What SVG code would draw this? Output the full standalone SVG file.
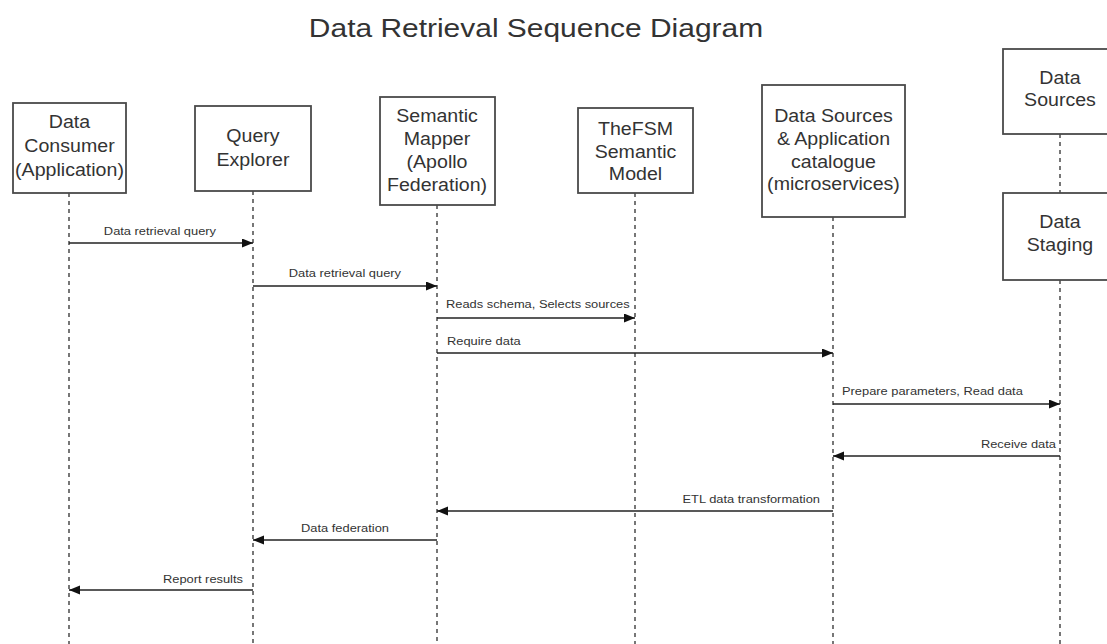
<svg xmlns="http://www.w3.org/2000/svg" width="1107" height="644" viewBox="0 0 1107 644">
  <style>
    text { font-family: "Liberation Sans", Arial, sans-serif; fill: #333; transform-box: fill-box; }
    .title { font-size: 26.5px; text-anchor: middle; transform-origin: center; transform: scaleX(1.13); }
    .node rect { fill: #fff; stroke: #4a4a4a; stroke-width: 1.8; }
    .node text { font-size: 17.5px; text-anchor: middle; transform-origin: center; transform: scaleX(1.12); }
    .life { stroke: #555; stroke-width: 1.6; stroke-dasharray: 4 4; fill: none; }
    .msg { stroke: #222; stroke-width: 1.5; fill: none; marker-end: url(#arr); }
    .lbl { font-size: 11.5px; }
    .mid { text-anchor: middle; transform-origin: center; transform: scaleX(1.12); }
    .st { text-anchor: start; transform-origin: left; transform: scaleX(1.12); }
    .en { text-anchor: end; transform-origin: right; transform: scaleX(1.12); }
  </style>
  <defs>
    <marker id="arr" markerUnits="userSpaceOnUse" markerWidth="12" markerHeight="10" refX="11" refY="4.5" orient="auto">
      <path d="M0,0 L11,4.5 L0,9 Z" fill="#111"/>
    </marker>
  </defs>
  <rect width="1107" height="644" fill="#fff"/>
  <text class="title" x="536" y="37">Data Retrieval Sequence Diagram</text>

  <g id="lifelines">
    <line class="life" x1="69" y1="193" x2="69" y2="644"/>
    <line class="life" x1="253" y1="191" x2="253" y2="644"/>
    <line class="life" x1="437" y1="205" x2="437" y2="644"/>
    <line class="life" x1="635" y1="193" x2="635" y2="644"/>
    <line class="life" x1="833" y1="217" x2="833" y2="644"/>
    <line class="life" x1="1060" y1="134" x2="1060" y2="193"/>
    <line class="life" x1="1060" y1="280" x2="1060" y2="644"/>
  </g>

  <g id="consumer" class="node">
    <rect x="13" y="103" width="113" height="90"/>
    <text x="69.5" y="128">Data</text>
    <text x="69.5" y="152">Consumer</text>
    <text x="69.5" y="176">(Application)</text>
  </g>
  <g id="query-explorer" class="node">
    <rect x="195" y="106" width="116" height="85"/>
    <text x="253" y="142">Query</text>
    <text x="253" y="166">Explorer</text>
  </g>
  <g id="semantic-mapper" class="node">
    <rect x="380" y="97" width="115" height="108"/>
    <text x="437" y="122">Semantic</text>
    <text x="437" y="145">Mapper</text>
    <text x="437" y="168">(Apollo</text>
    <text x="437" y="191">Federation)</text>
  </g>
  <g id="thefsm" class="node">
    <rect x="578" y="108" width="115" height="85"/>
    <text x="635.5" y="135">TheFSM</text>
    <text x="635.5" y="158">Semantic</text>
    <text x="635.5" y="180">Model</text>
  </g>
  <g id="catalogue" class="node">
    <rect x="762" y="85" width="143" height="132"/>
    <text x="833.5" y="122">Data Sources</text>
    <text x="833.5" y="145">&amp; Application</text>
    <text x="833.5" y="168">catalogue</text>
    <text x="833.5" y="190">(microservices)</text>
  </g>
  <g id="data-sources" class="node">
    <rect x="1003" y="49" width="115" height="85"/>
    <text x="1060" y="84">Data</text>
    <text x="1060" y="106">Sources</text>
  </g>
  <g id="data-staging" class="node">
    <rect x="1003" y="193" width="115" height="87"/>
    <text x="1060" y="228">Data</text>
    <text x="1060" y="251">Staging</text>
  </g>

  <g id="connectors">
    <line class="msg" x1="69" y1="243" x2="253" y2="243"/>
    <text class="lbl mid" x="160" y="235">Data retrieval query</text>
    <line class="msg" x1="253" y1="286" x2="437" y2="286"/>
    <text class="lbl mid" x="345" y="277">Data retrieval query</text>
    <line class="msg" x1="437" y1="318" x2="635" y2="318"/>
    <text class="lbl st" x="446" y="308">Reads schema, Selects sources</text>
    <line class="msg" x1="437" y1="353" x2="833" y2="353"/>
    <text class="lbl st" x="447" y="345">Require data</text>
    <line class="msg" x1="833" y1="404" x2="1060" y2="404"/>
    <text class="lbl st" x="842" y="395">Prepare parameters, Read data</text>
    <line class="msg" x1="1060" y1="456" x2="833" y2="456"/>
    <text class="lbl en" x="1056" y="448">Receive data</text>
    <line class="msg" x1="833" y1="511" x2="437" y2="511"/>
    <text class="lbl en" x="820" y="503">ETL data transformation</text>
    <line class="msg" x1="437" y1="540" x2="253" y2="540"/>
    <text class="lbl mid" x="345" y="532">Data federation</text>
    <line class="msg" x1="253" y1="590" x2="69" y2="590"/>
    <text class="lbl en" x="243" y="583">Report results</text>
  </g>
</svg>
